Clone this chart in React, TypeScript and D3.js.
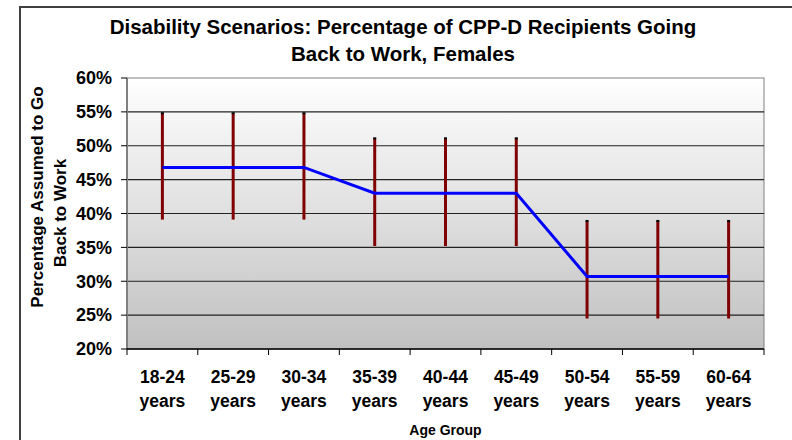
import React from 'react';
import * as d3 from 'd3';

const ageGroups = ['18-24', '25-29', '30-34', '35-39', '40-44', '45-49', '50-54', '55-59', '60-64'];
const meanPct = [46.8, 46.8, 46.8, 43.0, 43.0, 43.0, 30.7, 30.7, 30.7];
const lowPct = [39.1, 39.1, 39.1, 35.2, 35.2, 35.2, 24.5, 24.5, 24.5];
const highPct = [54.8, 54.8, 54.8, 51.1, 51.1, 51.1, 38.9, 38.9, 38.9];
const yTicks = [20, 25, 30, 35, 40, 45, 50, 55, 60];

const W = 792;
const H = 440;
const plot = { left: 127, top: 78, right: 764, bottom: 349 };
const FONT = 'Arial, "Liberation Sans", Helvetica, sans-serif';

const App = () => {
  const x = d3.scaleBand<string>().domain(ageGroups).range([plot.left, plot.right]);
  const y = d3.scaleLinear().domain([20, 60]).range([plot.bottom, plot.top]);
  const cx = (g: string) => (x(g) as number) + x.bandwidth() / 2;

  const line = d3.line<number>()
    .x((_, i) => cx(ageGroups[i]))
    .y(d => y(d));

  const bounds = [...ageGroups.map(g => x(g) as number), plot.right];

  return (
    <svg width={W} height={H} style={{ position: 'absolute', left: 0, top: 0 }} fontFamily={FONT}>
      <defs>
        <linearGradient id="bg" x1="0" y1="0" x2="0" y2="1">
          <stop offset="0%" stopColor="#ffffff" />
          <stop offset="100%" stopColor="#c0c0c0" />
        </linearGradient>
      </defs>
      <rect x={0} y={0} width={W} height={H} fill="#fff" />
      {/* outer frame */}
      <rect x={20} y={7} width={W + 20} height={H + 20} fill="none" stroke="#404040" strokeWidth={2} />

      {/* title */}
      <text x={403} y={34} textAnchor="middle" fontSize={20.5} fontWeight="bold">
        Disability Scenarios: Percentage of CPP-D Recipients Going
      </text>
      <text x={403} y={61} textAnchor="middle" fontSize={20.5} fontWeight="bold">
        Back to Work, Females
      </text>

      {/* plot area */}
      <rect x={plot.left} y={plot.top} width={plot.right - plot.left} height={plot.bottom - plot.top}
        fill="url(#bg)" stroke="#808080" strokeWidth={1} />
      {yTicks.slice(1, -1).map(t => (
        <line key={t} x1={plot.left} x2={plot.right} y1={y(t)} y2={y(t)} stroke="#222" strokeWidth={1.2} />
      ))}

      {/* y axis */}
      <line x1={plot.left} x2={plot.left} y1={plot.top} y2={plot.bottom} stroke="#808080" strokeWidth={2} />
      {yTicks.map(t => (
        <g key={t}>
          <line x1={plot.left - 6} x2={plot.left} y1={y(t)} y2={y(t)} stroke="#000" strokeWidth={1} />
          <text x={112} y={y(t)} dy="0.35em" textAnchor="end" fontSize={18} fontWeight="bold">{t}%</text>
        </g>
      ))}
      <g transform="translate(43, 197) rotate(-90)">
        <text textAnchor="middle" fontSize={17} fontWeight="bold">Percentage Assumed to Go</text>
      </g>
      <g transform="translate(66, 213) rotate(-90)">
        <text textAnchor="middle" fontSize={17} fontWeight="bold">Back to Work</text>
      </g>

      {/* x axis */}
      <line x1={plot.left} x2={plot.right} y1={plot.bottom} y2={plot.bottom} stroke="#000" strokeWidth={1.3} />
      {bounds.map((b, i) => (
        <line key={i} x1={b} x2={b} y1={plot.bottom} y2={plot.bottom + 6} stroke="#000" strokeWidth={1} />
      ))}
      {ageGroups.map(g => (
        <g key={g}>
          <text x={cx(g)} y={383} textAnchor="middle" fontSize={17.5} fontWeight="bold">{g}</text>
          <text x={cx(g)} y={407} textAnchor="middle" fontSize={17.5} fontWeight="bold">years</text>
        </g>
      ))}
      <text x={(plot.left + plot.right) / 2} y={435} textAnchor="middle" fontSize={14} fontWeight="bold">Age Group</text>

      {/* high-low bars */}
      {ageGroups.map((g, i) => (
        <g key={g}>
          <line x1={cx(g)} x2={cx(g)} y1={y(highPct[i])} y2={y(lowPct[i])} stroke="#800000" strokeWidth={3} />
          <rect x={cx(g) - 1.5} y={y(highPct[i]) - 1} width={3} height={2} fill="#000" />
        </g>
      ))}

      {/* mean line */}
      <path d={line(meanPct) || ''} fill="none" stroke="#0000ff" strokeWidth={3} />
    </svg>
  );
};

export default App;
